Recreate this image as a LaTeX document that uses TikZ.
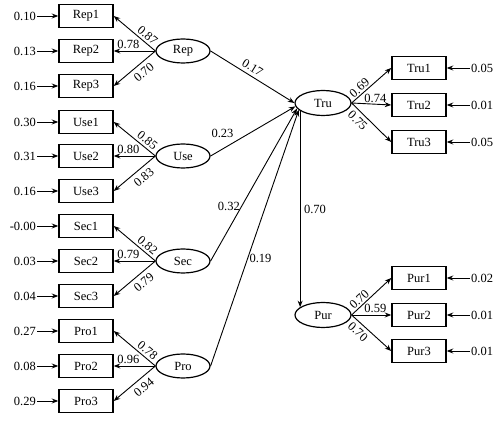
\documentclass[tikz,border=0pt]{standalone}
\usepackage{fontspec}
\setmainfont{Liberation Serif}
\usetikzlibrary{shapes.geometric,arrows.meta}
\begin{document}
\begin{tikzpicture}[x=1pt,y=-1pt,
  font=\fontsize{12.5}{14}\selectfont,
  obs/.style={draw, line width=1.5pt, minimum width=54pt, minimum height=23pt, inner sep=0pt},
  lat/.style={draw, ellipse, line width=1.2pt, minimum width=54pt, minimum height=24pt, inner sep=0pt},
  latr/.style={lat, minimum width=56pt, minimum height=25pt},
  arr/.style={line width=0.9pt, -{Stealth[length=6.5pt,width=5pt]}},
  lab/.style={inner sep=1.5pt},
  err/.style={inner sep=1pt}]
\useasboundingbox (0,0) rectangle (504,422);

% left indicators
\foreach \n/\y/\e in {Rep1/16/0.10, Rep2/51/0.13, Rep3/86/0.16,
                      Use1/122/0.30, Use2/156/0.31, Use3/191/0.16,
                      Sec1/226/-0.00, Sec2/261/0.03, Sec3/296/0.04,
                      Pro1/331/0.27, Pro2/366/0.08, Pro3/401/0.29} {
  \node[obs] (\n) at (86,\y) {\n};
  \node[err, anchor=east] (e\n) at (37,\y) {\e};
  \draw[arr] (e\n) -- (\n);
}

% right indicators
\foreach \n/\y/\e in {Tru1/68/0.05, Tru2/105/0.01, Tru3/142/0.05,
                      Pur1/278/0.02, Pur2/315/0.01, Pur3/351/0.01} {
  \node[obs] (\n) at (419,\y) {\n};
  \node[err, anchor=west] (e\n) at (470,\y) {\e};
  \draw[arr] (e\n) -- (\n);
}

% latent variables
\node[lat] (Rep) at (183,51) {Rep};
\node[lat] (Use) at (183,156) {Use};
\node[lat] (Sec) at (183,261) {Sec};
\node[lat] (Pro) at (183,366) {Pro};
\node[latr] (Tru) at (323,103) {Tru};
\node[latr] (Pur) at (323,315) {Pur};

% loadings (left)
\foreach \f/\a/\b/\c/\la/\lb/\lc in {Rep/Rep1/Rep2/Rep3/0.87/0.78/0.70,
                                      Use/Use1/Use2/Use3/0.85/0.80/0.83,
                                      Sec/Sec1/Sec2/Sec3/0.82/0.79/0.79,
                                      Pro/Pro1/Pro2/Pro3/0.78/0.96/0.94} {
  \draw[arr] (\f.west) -- node[lab, sloped, above=1pt, pos=0.3] {\la} (\a.east);
  \draw[arr] (\f.west) -- node[lab, above, pos=0.65] {\lb} (\b.east);
  \draw[arr] (\f.west) -- node[lab, sloped, below=3pt, pos=0.42] {\lc} (\c.east);
}

% loadings (right)
\draw[arr] (Tru.east) -- node[lab, sloped, above, pos=0.3] {0.69} (Tru1.west);
\draw[arr] (Tru.east) -- node[lab, above, pos=0.6] {0.74} (Tru2.west);
\draw[arr] (Tru.east) -- node[lab, sloped, below=2pt, pos=0.3] {0.75} (Tru3.west);
\draw[arr] (Pur.east) -- node[lab, sloped, above, pos=0.3] {0.70} (Pur1.west);
\draw[arr] (Pur.east) -- node[lab, above, pos=0.6] {0.59} (Pur2.west);
\draw[arr] (Pur.east) -- node[lab, sloped, below=2pt, pos=0.3] {0.70} (Pur3.west);

% structural paths
\draw[arr] (Rep.east) -- node[lab, sloped, above=2pt, pos=0.45] {0.17} (Tru.180);
\draw[arr] (Use.east) -- node[lab, above=9pt, pos=0.14] {0.23} (Tru.187);
\draw[arr] (Sec.east) -- node[lab, left, pos=0.36] {0.32} (Tru.192);
\draw[arr] (Pro.east) -- node[lab, right, pos=0.42] {0.19} (Tru.196);
\draw[arr] (Tru.199) -- node[lab, right=2pt, pos=0.5] {0.70} (Pur.161);
\end{tikzpicture}
\end{document}
